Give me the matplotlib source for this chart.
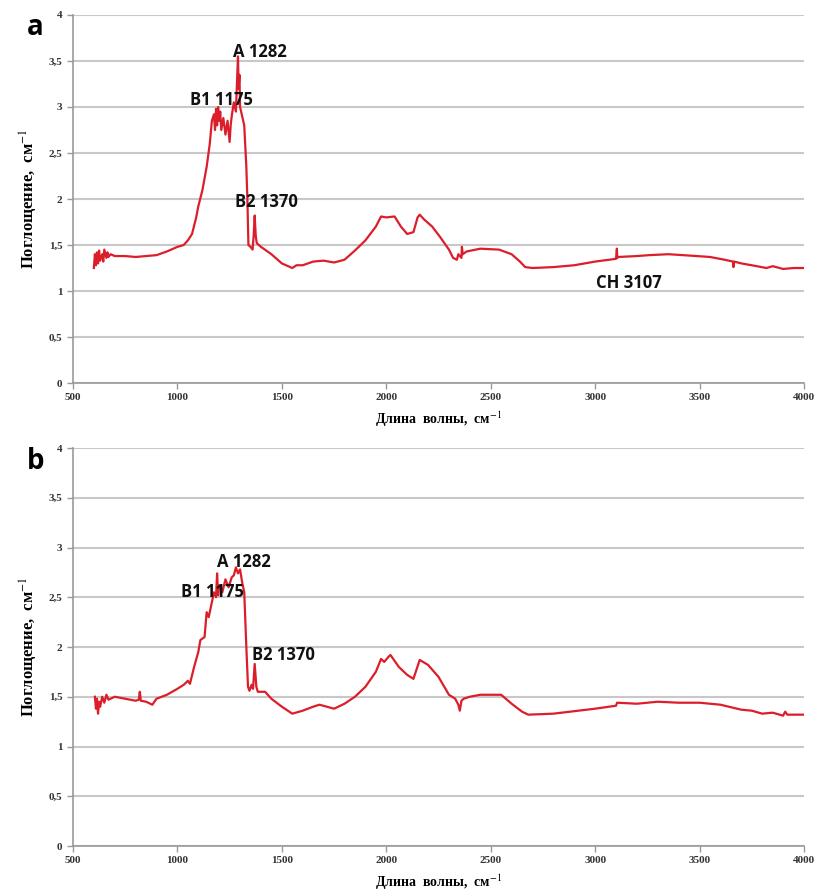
import numpy as np
import matplotlib.pyplot as plt

plt.rcParams["mathtext.fontset"] = "stix"

# spectrum a (wavenumber, absorbance)
wn_a = [600, 605, 610, 615, 620, 625, 630, 640, 645, 650, 660, 665, 670, 680, 700, 750, 800, 850,
        900, 950, 1000, 1030, 1050, 1070, 1090, 1100, 1120, 1140, 1155, 1165, 1175, 1180, 1185,
        1190, 1195, 1200, 1205, 1210, 1220, 1230, 1240, 1250, 1255, 1260, 1270, 1280, 1285, 1290,
        1293, 1297, 1300, 1310, 1320, 1330, 1335, 1340, 1350, 1360, 1365, 1370, 1375, 1380, 1400,
        1450, 1500, 1530, 1550, 1570, 1600, 1650, 1700, 1750, 1800, 1850, 1900, 1950, 1975, 2000,
        2040, 2070, 2100, 2130, 2150, 2160, 2180, 2220, 2260, 2300, 2320, 2338, 2345, 2360, 2362,
        2366, 2385, 2450, 2540, 2600, 2640, 2665, 2700, 2800, 2900, 3000, 3100, 3104, 3106, 3110,
        3200, 3260, 3350, 3420, 3550, 3620, 3660, 3662, 3666, 3700, 3750, 3820, 3850, 3900, 3950, 4000]
ab_a = [1.25, 1.40, 1.28, 1.42, 1.30, 1.44, 1.33, 1.40, 1.32, 1.45, 1.36, 1.42, 1.37, 1.40, 1.38, 1.38, 1.37, 1.38,
        1.39, 1.43, 1.48, 1.50, 1.55, 1.62, 1.80, 1.92, 2.10, 2.35, 2.60, 2.85, 2.92, 2.75, 2.98,
        2.80, 3.00, 2.85, 2.95, 2.75, 2.88, 2.70, 2.85, 2.62, 2.80, 2.90, 3.05, 2.95, 3.25, 3.55,
        3.20, 3.35, 3.00, 2.90, 2.80, 2.35, 2.00, 1.50, 1.48, 1.45, 1.60, 1.82, 1.60, 1.52, 1.48,
        1.40, 1.30, 1.27, 1.25, 1.28, 1.28, 1.32, 1.33, 1.31, 1.34, 1.44, 1.55, 1.70, 1.81, 1.80,
        1.81, 1.70, 1.62, 1.64, 1.80, 1.83, 1.78, 1.70, 1.58, 1.45, 1.36, 1.34, 1.40, 1.36, 1.48,
        1.40, 1.43, 1.46, 1.45, 1.40, 1.32, 1.26, 1.25, 1.26, 1.28, 1.32, 1.35, 1.46, 1.36, 1.37,
        1.38, 1.39, 1.40, 1.39, 1.37, 1.34, 1.32, 1.26, 1.32, 1.30, 1.28, 1.25, 1.27, 1.24, 1.25, 1.25]

# spectrum b
wn_b = [605, 610, 615, 620, 625, 630, 640, 650, 660, 670, 700, 750, 800, 815, 820, 825, 850,
        880, 900, 950, 1000, 1030, 1050, 1060, 1080, 1100, 1110, 1130, 1140, 1150, 1165, 1175,
        1185, 1190, 1195, 1200, 1215, 1230, 1245, 1260, 1270, 1280, 1290, 1300, 1310, 1320,
        1330, 1338, 1345, 1355, 1362, 1370, 1378, 1385, 1420, 1450, 1500, 1550, 1600, 1650,
        1680, 1750, 1800, 1850, 1900, 1950, 1975, 1990, 2010, 2020, 2060, 2100, 2130, 2160,
        2200, 2250, 2300, 2330, 2345, 2352, 2360, 2370, 2400, 2450, 2550, 2600, 2650, 2680,
        2800, 3000, 3100, 3105, 3200, 3300, 3400, 3500, 3600, 3700, 3750, 3800, 3850, 3900,
        3910, 3920, 3940, 4000]
ab_b = [1.50, 1.38, 1.48, 1.33, 1.45, 1.40, 1.50, 1.44, 1.52, 1.47, 1.50, 1.48, 1.46, 1.47, 1.55, 1.46, 1.45,
        1.42, 1.48, 1.52, 1.58, 1.62, 1.66, 1.63, 1.80, 1.95, 2.07, 2.10, 2.35, 2.30, 2.45, 2.55,
        2.50, 2.74, 2.52, 2.62, 2.55, 2.68, 2.60, 2.70, 2.72, 2.80, 2.74, 2.78, 2.65, 2.55,
        2.00, 1.60, 1.56, 1.62, 1.58, 1.83, 1.60, 1.55, 1.55, 1.48, 1.40, 1.33, 1.36, 1.40,
        1.42, 1.38, 1.43, 1.50, 1.60, 1.75, 1.88, 1.85, 1.90, 1.92, 1.80, 1.72, 1.68, 1.87,
        1.82, 1.70, 1.52, 1.48, 1.42, 1.36, 1.46, 1.48, 1.50, 1.52, 1.52, 1.43, 1.35, 1.32,
        1.33, 1.38, 1.41, 1.44, 1.43, 1.45, 1.44, 1.44, 1.42, 1.37, 1.36, 1.33, 1.34, 1.31,
        1.35, 1.32, 1.32, 1.32]

labels_a = [("A 1282", 1395, 3.60), ("B1 1175", 1213, 3.08), ("B2 1370", 1428, 1.97), ("CH 3107", 3162, 1.09)]
labels_b = [("A 1282", 1320, 2.85), ("B1 1175", 1170, 2.55), ("B2 1370", 1510, 1.92)]

yticks = [0, 0.5, 1, 1.5, 2, 2.5, 3, 3.5, 4]
ytick_text = ["0", "0,5", "1", "1,5", "2", "2,5", "3", "3,5", "4"]
xticks = [500, 1000, 1500, 2000, 2500, 3000, 3500, 4000]

red = "#dc1e2a"
grid_c = "#c8c8c8"
serif = "Liberation Serif"

fig = plt.figure(figsize=(8.19, 8.96), dpi=100)
ax_a = fig.add_axes([0.0891, 0.5725, 0.8926, 0.4108])
ax_b = fig.add_axes([0.0891, 0.0558, 0.8926, 0.4442])


def style(ax, wn, ab, labels, letter):
    ax.plot(wn, ab, color=red, lw=1.6)
    ax.set_xlim(500, 4000)
    ax.set_ylim(0, 4)
    ax.set_yticks(yticks)
    ax.set_yticklabels(ytick_text, fontsize=8, fontweight="bold", family=serif, color="#333333")
    ax.set_xticks(xticks)
    ax.set_xticklabels([str(t) for t in xticks], fontsize=8, fontweight="bold", family=serif, color="#333333")
    ax.grid(axis="y", color=grid_c, lw=1.5)
    ax.set_axisbelow(True)
    for s in ["top", "right"]:
        ax.spines[s].set_visible(False)
    for s in ["left", "bottom"]:
        ax.spines[s].set_color("#999999")
        ax.spines[s].set_linewidth(1.2)
    ax.tick_params(axis="both", length=4, color="#999999", width=1)
    ax.set_ylabel("Поглощение,  см$^{-1}$", family=serif, fontweight="bold", fontsize=12, labelpad=6)
    ax.set_xlabel("Длина  волны,  см$^{-1}$", family=serif, fontweight="bold", fontsize=10, labelpad=5)
    for txt, x, y in labels:
        ax.text(x, y, txt, ha="center", va="center", fontsize=12, fontweight="bold",
                family="Open Sans", color="#111111")
    ax.text(-0.063, 0.965, letter, transform=ax.transAxes, fontsize=20, fontweight="bold",
            family="Open Sans", ha="left", va="center")


style(ax_a, wn_a, ab_a, labels_a, "a")
style(ax_b, wn_b, ab_b, labels_b, "b")

fig.savefig("out.png", dpi=100)
